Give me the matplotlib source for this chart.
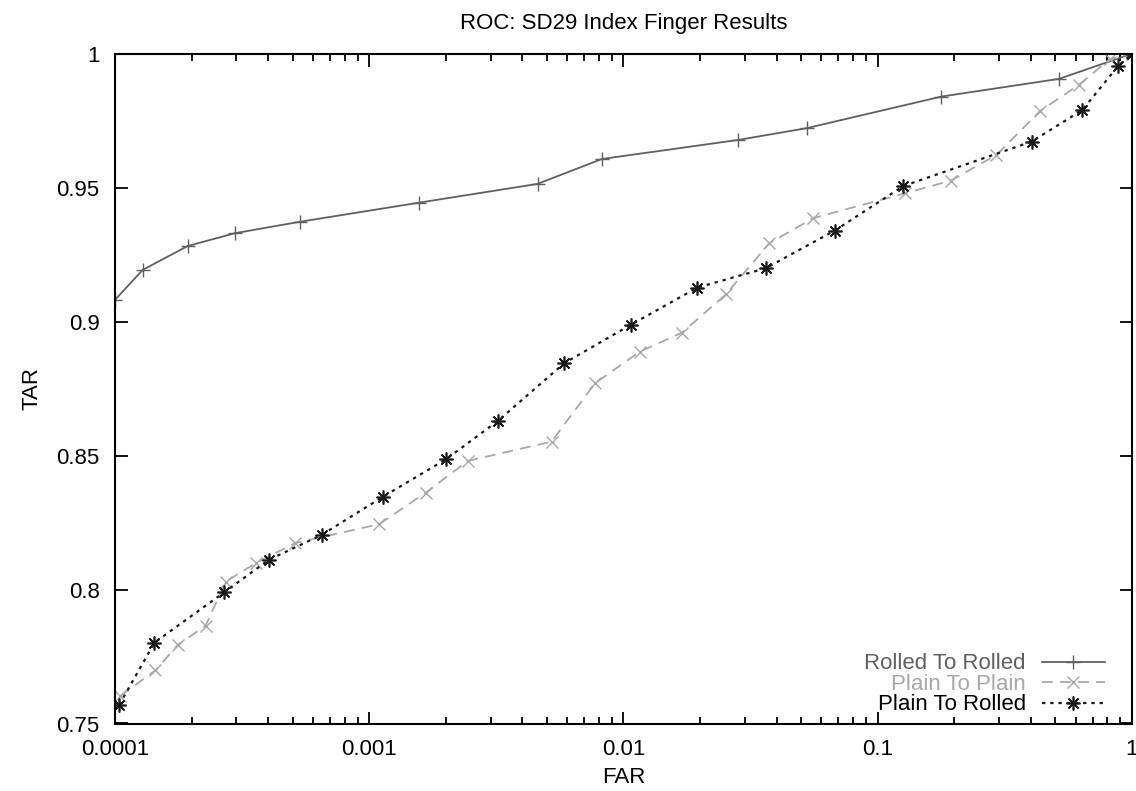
import matplotlib
matplotlib.use('Agg')
import matplotlib.pyplot as plt
from matplotlib.ticker import FixedLocator, FuncFormatter, LogLocator, NullFormatter

rolled_far = [1.0e-4, 1.285e-4, 1.93e-4, 2.96e-4, 5.36e-4, 1.57e-3, 4.59e-3, 8.22e-3,
              0.0282, 0.0525, 0.178, 0.516, 1.0]
rolled_tar = [0.9081, 0.9193, 0.9282, 0.9330, 0.9373, 0.9444, 0.9514, 0.9607,
              0.9678, 0.9722, 0.9840, 0.9906, 1.0]

plain_far = [1.05e-4, 1.44e-4, 1.77e-4, 2.27e-4, 2.73e-4, 3.6e-4, 5.1e-4, 1.094e-3,
             1.67e-3, 2.44e-3, 5.21e-3, 7.73e-3, 0.0116, 0.017, 0.0253, 0.0374,
             0.0557, 0.128, 0.1936, 0.293, 0.436, 0.617, 0.818, 1.0]
plain_tar = [0.7603, 0.7698, 0.7794, 0.7865, 0.8030, 0.8100, 0.8173, 0.8244,
             0.8362, 0.8480, 0.8552, 0.8770, 0.8888, 0.8959, 0.9102, 0.9292,
             0.9386, 0.9479, 0.9526, 0.9622, 0.9787, 0.9883, 0.9980, 1.0]

p2r_far = [1.04e-4, 1.43e-4, 2.69e-4, 4.03e-4, 6.5e-4, 1.135e-3, 2.01e-3, 3.21e-3,
           5.85e-3, 0.01067, 0.01953, 0.0362, 0.0678, 0.126, 0.403, 0.638, 0.882, 1.0]
p2r_tar = [0.7570, 0.7802, 0.7990, 0.8111, 0.8204, 0.8347, 0.8487, 0.8630,
           0.8845, 0.8988, 0.9127, 0.9199, 0.9340, 0.9506, 0.9672, 0.9790, 0.9954, 1.0]

x_ticks = [0.0001, 0.001, 0.01, 0.1, 1]
x_labels = ['0.0001', '0.001', '0.01', '0.1', '1']
y_ticks = [0.75, 0.8, 0.85, 0.9, 0.95, 1.0]
y_labels = ['0.75', '0.8', '0.85', '0.9', '0.95', '1']

plt.rcParams['font.family'] = ['Liberation Sans', 'DejaVu Sans']
plt.rcParams['font.size'] = 16

fig = plt.figure(figsize=(11.36, 7.91), dpi=100)
ax = fig.add_axes([115 / 1136, 1 - 723.5 / 791, (1132 - 115) / 1136, (723.5 - 53.7) / 791])

c_rolled = '#606060'
c_plain = '#a8a8a8'
c_p2r = '#1a1a1a'

ax.plot(rolled_far, rolled_tar, '-', color=c_rolled, lw=1.3, marker='+', ms=10,
        mew=1.0, label='Rolled To Rolled')
ax.plot(plain_far, plain_tar, color=c_plain, lw=1.3, ls=(0, (6, 4)), marker='x', ms=9,
        mew=1.0, label='Plain To Plain')
ax.plot(p2r_far, p2r_tar, color=c_p2r, lw=1.6, ls=(0, (1.5, 2.2)), marker=(8, 2, 0), ms=10,
        mew=1.2, label='Plain To Rolled')

ax.set_xscale('log')
ax.set_xlim(1e-4, 1)
ax.set_ylim(0.75, 1.0)
ax.xaxis.set_major_locator(FixedLocator(x_ticks))
ax.xaxis.set_major_formatter(FuncFormatter(lambda v, p: x_labels[x_ticks.index(min(x_ticks, key=lambda t: abs(t - v)))]))
ax.xaxis.set_minor_locator(LogLocator(base=10, subs=range(2, 10)))
ax.xaxis.set_minor_formatter(NullFormatter())
ax.set_yticks(y_ticks)
ax.set_yticklabels(y_labels)

ax.tick_params(which='both', direction='in', top=True, right=True, width=1.3)
ax.tick_params(which='major', length=9)
ax.tick_params(which='minor', length=5)
ax.tick_params(axis='x', which='major', pad=11)
ax.tick_params(axis='y', which='major', pad=11)
for s in ax.spines.values():
    s.set_linewidth(1.5)

ax.set_xlabel('FAR', labelpad=5)
ax.set_ylabel('TAR', labelpad=10)
ax.set_title('ROC: SD29 Index Finger Results', pad=18, fontsize=16)

leg = ax.legend(loc='lower right', bbox_to_anchor=(0.973, 0.012), markerfirst=False,
                frameon=False, handlelength=2.8, handletextpad=0.75, labelspacing=-0.02,
                borderaxespad=0.0, borderpad=0.0)
for txt, col in zip(leg.get_texts(), [c_rolled, c_plain, 'black']):
    txt.set_color(col)
    txt.set_ha('right')

fig.savefig('out.png', dpi=100)
